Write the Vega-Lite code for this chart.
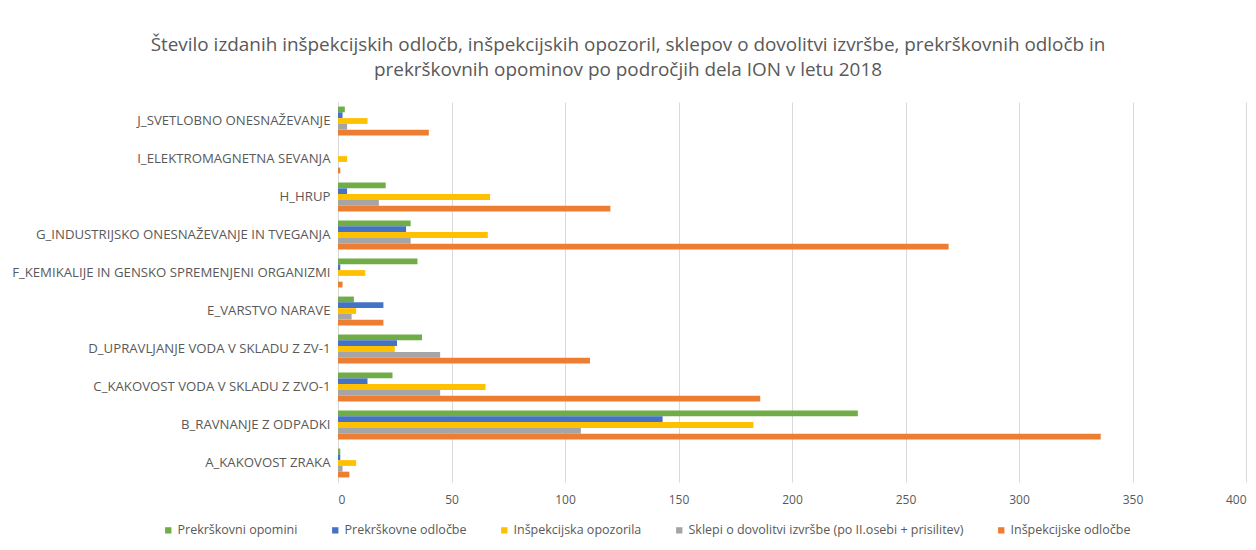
{
  "$schema": "https://vega.github.io/schema/vega-lite/v6.json",
  "autosize": {"type": "none"},
  "padding": {"left": 338, "top": 102, "right": 10, "bottom": 68},
  "width": 908,
  "height": 380,
  "background": "white",
  "config": {
    "font": "Open Sans",
    "view": {"stroke": null},
    "axis": {"labelColor": "#595959", "titleColor": "#595959"}
  },
  "title": {
    "text": ["Število izdanih inšpekcijskih odločb, inšpekcijskih opozoril, sklepov o dovolitvi izvršbe, prekrškovnih odločb in", "prekrškovnih opominov po področjih dela ION v letu 2018"],
    "anchor": "middle",
    "frame": "group",
    "dx": -164,
    "offset": 22,
    "fontSize": 18.9,
    "fontWeight": "normal",
    "color": "#595959",
    "lineHeight": 25
  },
  "data": {
    "values": [
      {"kat": "J_SVETLOBNO ONESNAŽEVANJE", "serija": "Prekrškovni opomini", "vrednost": 3},
      {"kat": "J_SVETLOBNO ONESNAŽEVANJE", "serija": "Prekrškovne odločbe", "vrednost": 2},
      {"kat": "J_SVETLOBNO ONESNAŽEVANJE", "serija": "Inšpekcijska opozorila", "vrednost": 13},
      {"kat": "J_SVETLOBNO ONESNAŽEVANJE", "serija": "Sklepi o dovolitvi izvršbe (po II.osebi + prisilitev)", "vrednost": 4},
      {"kat": "J_SVETLOBNO ONESNAŽEVANJE", "serija": "Inšpekcijske odločbe", "vrednost": 40},
      {"kat": "I_ELEKTROMAGNETNA SEVANJA", "serija": "Prekrškovni opomini", "vrednost": 0},
      {"kat": "I_ELEKTROMAGNETNA SEVANJA", "serija": "Prekrškovne odločbe", "vrednost": 0},
      {"kat": "I_ELEKTROMAGNETNA SEVANJA", "serija": "Inšpekcijska opozorila", "vrednost": 4},
      {"kat": "I_ELEKTROMAGNETNA SEVANJA", "serija": "Sklepi o dovolitvi izvršbe (po II.osebi + prisilitev)", "vrednost": 0},
      {"kat": "I_ELEKTROMAGNETNA SEVANJA", "serija": "Inšpekcijske odločbe", "vrednost": 1},
      {"kat": "H_HRUP", "serija": "Prekrškovni opomini", "vrednost": 21},
      {"kat": "H_HRUP", "serija": "Prekrškovne odločbe", "vrednost": 4},
      {"kat": "H_HRUP", "serija": "Inšpekcijska opozorila", "vrednost": 67},
      {"kat": "H_HRUP", "serija": "Sklepi o dovolitvi izvršbe (po II.osebi + prisilitev)", "vrednost": 18},
      {"kat": "H_HRUP", "serija": "Inšpekcijske odločbe", "vrednost": 120},
      {"kat": "G_INDUSTRIJSKO ONESNAŽEVANJE IN TVEGANJA", "serija": "Prekrškovni opomini", "vrednost": 32},
      {"kat": "G_INDUSTRIJSKO ONESNAŽEVANJE IN TVEGANJA", "serija": "Prekrškovne odločbe", "vrednost": 30},
      {"kat": "G_INDUSTRIJSKO ONESNAŽEVANJE IN TVEGANJA", "serija": "Inšpekcijska opozorila", "vrednost": 66},
      {"kat": "G_INDUSTRIJSKO ONESNAŽEVANJE IN TVEGANJA", "serija": "Sklepi o dovolitvi izvršbe (po II.osebi + prisilitev)", "vrednost": 32},
      {"kat": "G_INDUSTRIJSKO ONESNAŽEVANJE IN TVEGANJA", "serija": "Inšpekcijske odločbe", "vrednost": 269},
      {"kat": "F_KEMIKALIJE IN GENSKO SPREMENJENI ORGANIZMI", "serija": "Prekrškovni opomini", "vrednost": 35},
      {"kat": "F_KEMIKALIJE IN GENSKO SPREMENJENI ORGANIZMI", "serija": "Prekrškovne odločbe", "vrednost": 1},
      {"kat": "F_KEMIKALIJE IN GENSKO SPREMENJENI ORGANIZMI", "serija": "Inšpekcijska opozorila", "vrednost": 12},
      {"kat": "F_KEMIKALIJE IN GENSKO SPREMENJENI ORGANIZMI", "serija": "Sklepi o dovolitvi izvršbe (po II.osebi + prisilitev)", "vrednost": 0},
      {"kat": "F_KEMIKALIJE IN GENSKO SPREMENJENI ORGANIZMI", "serija": "Inšpekcijske odločbe", "vrednost": 2},
      {"kat": "E_VARSTVO NARAVE", "serija": "Prekrškovni opomini", "vrednost": 7},
      {"kat": "E_VARSTVO NARAVE", "serija": "Prekrškovne odločbe", "vrednost": 20},
      {"kat": "E_VARSTVO NARAVE", "serija": "Inšpekcijska opozorila", "vrednost": 8},
      {"kat": "E_VARSTVO NARAVE", "serija": "Sklepi o dovolitvi izvršbe (po II.osebi + prisilitev)", "vrednost": 6},
      {"kat": "E_VARSTVO NARAVE", "serija": "Inšpekcijske odločbe", "vrednost": 20},
      {"kat": "D_UPRAVLJANJE VODA V SKLADU Z ZV-1", "serija": "Prekrškovni opomini", "vrednost": 37},
      {"kat": "D_UPRAVLJANJE VODA V SKLADU Z ZV-1", "serija": "Prekrškovne odločbe", "vrednost": 26},
      {"kat": "D_UPRAVLJANJE VODA V SKLADU Z ZV-1", "serija": "Inšpekcijska opozorila", "vrednost": 25},
      {"kat": "D_UPRAVLJANJE VODA V SKLADU Z ZV-1", "serija": "Sklepi o dovolitvi izvršbe (po II.osebi + prisilitev)", "vrednost": 45},
      {"kat": "D_UPRAVLJANJE VODA V SKLADU Z ZV-1", "serija": "Inšpekcijske odločbe", "vrednost": 111},
      {"kat": "C_KAKOVOST VODA V SKLADU Z ZVO-1", "serija": "Prekrškovni opomini", "vrednost": 24},
      {"kat": "C_KAKOVOST VODA V SKLADU Z ZVO-1", "serija": "Prekrškovne odločbe", "vrednost": 13},
      {"kat": "C_KAKOVOST VODA V SKLADU Z ZVO-1", "serija": "Inšpekcijska opozorila", "vrednost": 65},
      {"kat": "C_KAKOVOST VODA V SKLADU Z ZVO-1", "serija": "Sklepi o dovolitvi izvršbe (po II.osebi + prisilitev)", "vrednost": 45},
      {"kat": "C_KAKOVOST VODA V SKLADU Z ZVO-1", "serija": "Inšpekcijske odločbe", "vrednost": 186},
      {"kat": "B_RAVNANJE Z ODPADKI", "serija": "Prekrškovni opomini", "vrednost": 229},
      {"kat": "B_RAVNANJE Z ODPADKI", "serija": "Prekrškovne odločbe", "vrednost": 143},
      {"kat": "B_RAVNANJE Z ODPADKI", "serija": "Inšpekcijska opozorila", "vrednost": 183},
      {"kat": "B_RAVNANJE Z ODPADKI", "serija": "Sklepi o dovolitvi izvršbe (po II.osebi + prisilitev)", "vrednost": 107},
      {"kat": "B_RAVNANJE Z ODPADKI", "serija": "Inšpekcijske odločbe", "vrednost": 336},
      {"kat": "A_KAKOVOST ZRAKA", "serija": "Prekrškovni opomini", "vrednost": 1},
      {"kat": "A_KAKOVOST ZRAKA", "serija": "Prekrškovne odločbe", "vrednost": 1},
      {"kat": "A_KAKOVOST ZRAKA", "serija": "Inšpekcijska opozorila", "vrednost": 8},
      {"kat": "A_KAKOVOST ZRAKA", "serija": "Sklepi o dovolitvi izvršbe (po II.osebi + prisilitev)", "vrednost": 2},
      {"kat": "A_KAKOVOST ZRAKA", "serija": "Inšpekcijske odločbe", "vrednost": 5}
    ]
  },
  "mark": {"type": "bar"},
  "encoding": {
    "y": {
      "field": "kat",
      "type": "nominal",
      "sort": null,
      "scale": {"paddingInner": 0.24, "paddingOuter": 0.12},
      "axis": {
        "title": null,
        "ticks": false,
        "domain": true,
        "domainColor": "#d9d9d9",
        "labelPadding": 8,
        "labelFontSize": 13.2,
        "labelLimit": 400
      }
    },
    "yOffset": {
      "field": "serija",
      "type": "nominal",
      "sort": ["Prekrškovni opomini", "Prekrškovne odločbe", "Inšpekcijska opozorila", "Sklepi o dovolitvi izvršbe (po II.osebi + prisilitev)", "Inšpekcijske odločbe"],
      "scale": {"paddingInner": 0, "paddingOuter": 0}
    },
    "x": {
      "field": "vrednost",
      "type": "quantitative",
      "scale": {"domain": [0, 400], "nice": false},
      "axis": {
        "title": null,
        "values": [0, 50, 100, 150, 200, 250, 300, 350, 400],
        "grid": true,
        "gridColor": "#d9d9d9",
        "domain": false,
        "ticks": false,
        "labelPadding": 12,
        "labelFontSize": 12
      }
    },
    "color": {
      "field": "serija",
      "type": "nominal",
      "scale": {
        "domain": ["Prekrškovni opomini", "Prekrškovne odločbe", "Inšpekcijska opozorila", "Sklepi o dovolitvi izvršbe (po II.osebi + prisilitev)", "Inšpekcijske odločbe"],
        "range": ["#70ad47", "#4472c4", "#ffc000", "#a5a5a5", "#ed7d31"]
      },
      "legend": {
        "title": null,
        "orient": "none",
        "direction": "horizontal",
        "legendX": -176,
        "legendY": 422,
        "symbolType": "square",
        "symbolSize": 40,
        "symbolStrokeWidth": 0,
        "labelFontSize": 12.5,
        "labelColor": "#595959",
        "labelLimit": 400,
        "columnPadding": 31,
        "labelOffset": 3
      }
    }
  }
}
